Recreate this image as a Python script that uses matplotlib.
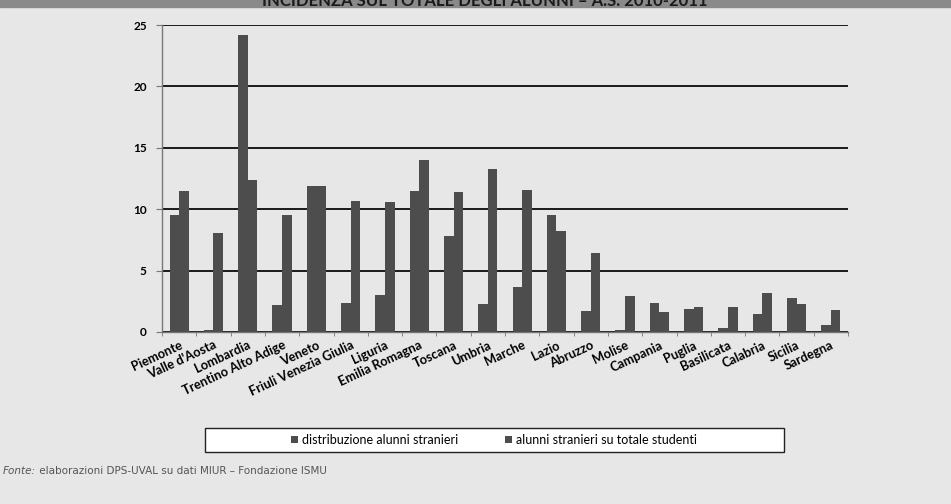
import matplotlib.pyplot as plt
import numpy as np
from matplotlib.patches import Rectangle

regioni = ['Piemonte', "Valle d'Aosta", 'Lombardia', 'Trentino Alto Adige', 'Veneto',
           'Friuli Venezia Giulia', 'Liguria', 'Emilia Romagna', 'Toscana', 'Umbria',
           'Marche', 'Lazio', 'Abruzzo', 'Molise', 'Campania', 'Puglia', 'Basilicata',
           'Calabria', 'Sicilia', 'Sardegna']
distribuzione = [9.5, 0.2, 24.2, 2.2, 11.9, 2.4, 3.0, 11.5, 7.8, 2.3,
                 3.7, 9.5, 1.7, 0.2, 2.4, 1.9, 0.3, 1.5, 2.8, 0.6]
incidenza = [11.5, 8.1, 12.4, 9.5, 11.9, 10.7, 10.6, 14.0, 11.4, 13.3,
             11.6, 8.2, 6.4, 2.9, 1.6, 2.0, 2.0, 3.2, 2.3, 1.8]
serie = ['distribuzione alunni stranieri', 'alunni stranieri su totale studenti']
titolo = 'INCIDENZA SUL TOTALE DEGLI ALUNNI \u2013 A.S. 2010-2011'
fonte_a = 'Fonte:'
fonte_b = ' elaborazioni DPS-UVAL su dati MIUR \u2013 Fondazione ISMU'

BG = '#e7e7e7'
BAR = '#4d4d4d'

fig = plt.figure(figsize=(9.51, 5.04), dpi=100, facecolor=BG)
ax = fig.add_axes([162/951, 1 - 332/504, 686/951, 307/504])
ax.set_facecolor(BG)

x = np.arange(len(regioni))
w = 0.28
b1 = ax.bar(x - w/2, distribuzione, w, color=BAR, label=serie[0], zorder=3)
b2 = ax.bar(x + w/2, incidenza, w, color=BAR, label=serie[1], zorder=3)

ax.set_xlim(-0.5, len(regioni) - 0.5)
ax.set_ylim(0, 25)
ax.set_yticks([0, 5, 10, 15, 20, 25])
ax.yaxis.grid(True, color='#1a1a1a', lw=1.4, zorder=1)
for s in ['top', 'right']:
    ax.spines[s].set_visible(False)
for s in ['left', 'bottom']:
    ax.spines[s].set_color('#777777')
    ax.spines[s].set_linewidth(1.0)
ax.tick_params(axis='y', length=4, color='#777777', pad=7)
for lab in ax.get_yticklabels():
    lab.set_fontfamily('Lato')
    lab.set_fontweight('bold')
    lab.set_fontsize(8.5)

# labels at bar groups, ticks between groups
ax.set_xticks(x)
ax.set_xticks(np.arange(len(regioni) + 1) - 0.5, minor=True)
ax.tick_params(axis='x', which='major', length=0, pad=5)
ax.tick_params(axis='x', which='minor', length=3, color='#777777')
ax.set_xticklabels(regioni, rotation=25, ha='right', va='top', rotation_mode='anchor',
                   fontfamily='Lato', fontweight='bold', fontsize=9.2)

# title band (cropped in the reference)
fig.patches.append(Rectangle((0, 1 - 7/504), 1, 7/504, transform=fig.transFigure,
                             color='#8a8a8a', zorder=0))
fig.text(0.51, 1 - 6/504, titolo, ha='center', va='baseline', fontsize=12,
         fontweight='bold', fontfamily='Lato', color='#1a1a1a')

# legend box
fig.patches.append(Rectangle((205/951, 1 - 452/504), 579/951, 24/504,
                             transform=fig.transFigure, facecolor='white',
                             edgecolor='#222222', lw=1.0, zorder=1))
leg = fig.legend(handles=[b1, b2], labels=serie, loc='center',
                 bbox_to_anchor=(494/951, 1 - 440/504), ncol=2, frameon=False,
                 handlelength=0.55, handleheight=0.55, handletextpad=0.3,
                 columnspacing=3.8, prop={'family': 'Lato', 'size': 9})

# source note
t1 = fig.text(3/951, 1 - 474/504, fonte_a, ha='left', va='baseline', fontsize=7.5,
              style='italic', fontfamily='DejaVu Sans', color='#555555')
ax.annotate(fonte_b, xy=(1, 0), xycoords=t1, ha='left', va='bottom', fontsize=7.5,
            fontfamily='DejaVu Sans', color='#555555', annotation_clip=False)

fig.savefig('out.png', dpi=100, facecolor=BG)
